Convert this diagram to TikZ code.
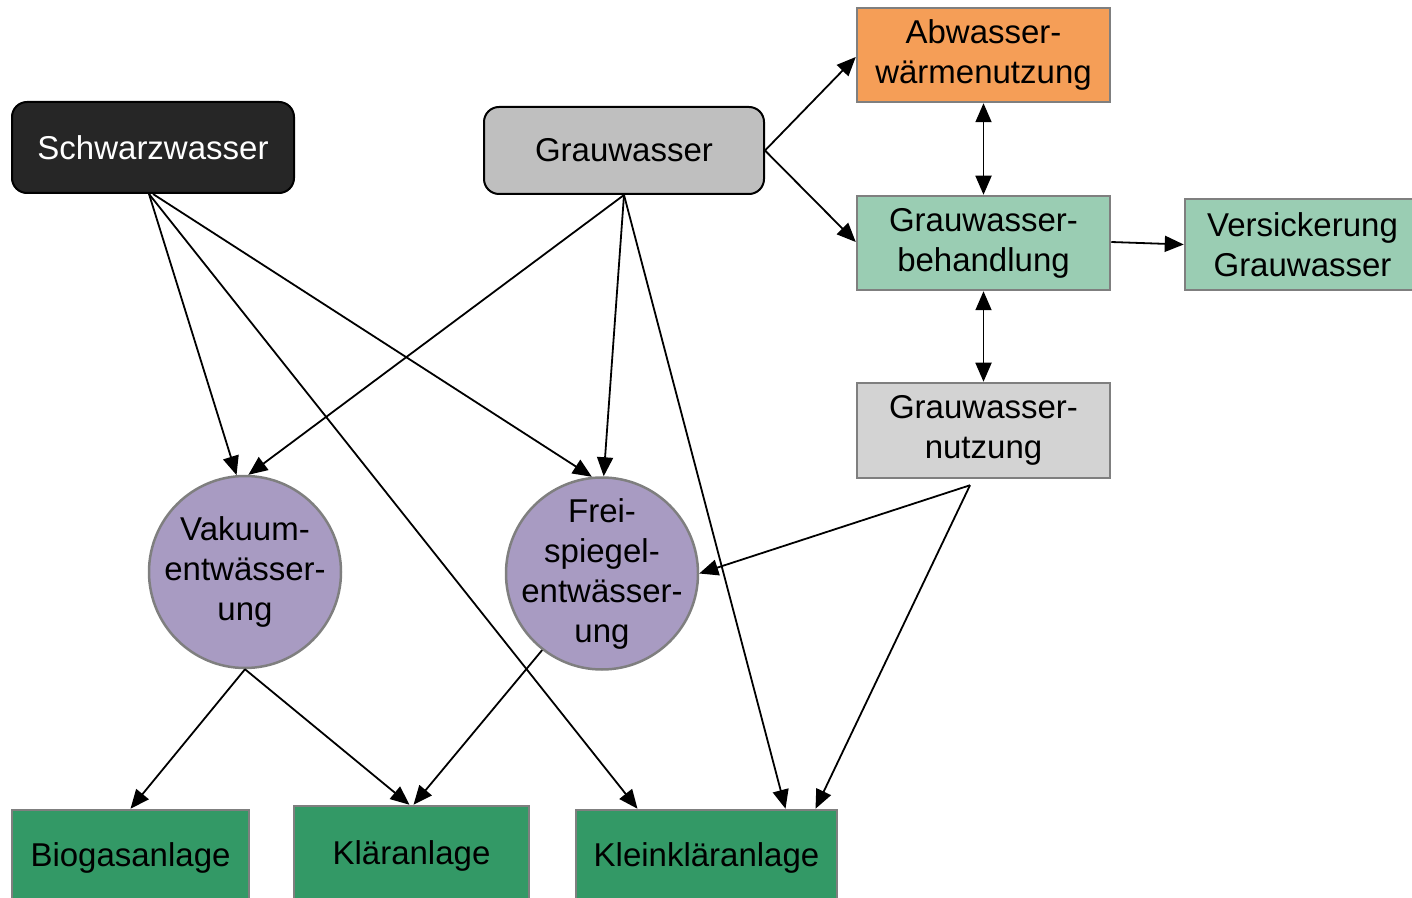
\documentclass[tikz,border=0pt]{standalone}
\usepackage{fontspec}
\setmainfont{Liberation Sans}
\usetikzlibrary{arrows.meta,calc}
\definecolor{bordgray}{HTML}{7F7F7F}
\definecolor{swfill}{HTML}{262626}
\definecolor{gwfill}{HTML}{BFBFBF}
\definecolor{orfill}{HTML}{F59E57}
\definecolor{lgfill}{HTML}{9ACDB3}
\definecolor{nzfill}{HTML}{D3D3D3}
\definecolor{pufill}{HTML}{A89BC2}
\definecolor{dgfill}{HTML}{339966}
\begin{document}
\begin{tikzpicture}[x=0.5pt,y=-0.5pt,
  txt/.style={align=center, inner sep=0pt, font=\fontsize{16.5}{20}\selectfont},
  box/.style={txt, draw=bordgray, line width=1.25pt, rectangle},
  rbox/.style={txt, draw=black, line width=1pt, rounded corners=7.5pt, rectangle},
  circ/.style={draw=bordgray, line width=1.25pt, circle, inner sep=0pt, minimum size=96pt, fill=pufill},
  arr/.style={-{Triangle[length=9.5pt,width=8pt]}, line width=0.9pt},
  darr/.style={{Triangle[length=9.5pt,width=8pt]}-{Triangle[length=9.5pt,width=8pt]}, line width=0.9pt}]
\useasboundingbox (0,0) rectangle (1412,898);
\clip (0,0) rectangle (1412,898);

\node[rbox, fill=swfill, text=white, minimum width=141pt, minimum height=45.5pt] (sw) at (153,147.5) {Schwarzwasser};
\node[rbox, fill=gwfill, minimum width=140pt, minimum height=43.5pt] (gw) at (624,150.5) {Grauwasser};
\node[box, fill=orfill, minimum width=126.5pt, minimum height=47pt] (abw) at (983.5,55) {Abwasser-\\wärmenutzung};
\node[box, fill=lgfill, minimum width=126.5pt, minimum height=47pt] (beh) at (983.5,243) {Grauwasser-\\behandlung};
\node[box, fill=lgfill, minimum width=117.5pt, minimum height=45.5pt] (vers) at (1302.5,244.5) {Versickerung\\Grauwasser};
\node[box, fill=nzfill, minimum width=126.5pt, minimum height=47.5pt] (gn) at (983.5,430.5) {Grauwasser-\\nutzung};
\node[circ, label={[txt]center:{Vakuum-\\entwässer-\\ung}}] (vak) at (245,572) {};
\node[circ, label={[txt]center:{Frei-\\spiegel-\\entwässer-\\ung}}] (fs) at (602,573.5) {};
\node[box, fill=dgfill, minimum width=118.5pt, minimum height=47.5pt] (bio) at (130.5,857.5) {Biogasanlage};
\node[box, fill=dgfill, minimum width=117.5pt, minimum height=49.5pt] (kl) at (411.5,855.5) {Kläranlage};
\node[box, fill=dgfill, minimum width=130.5pt, minimum height=47.5pt] (klk) at (706.5,857.5) {Kleinkläranlage};

\coordinate (nz) at ([xshift=-6.75pt,yshift=-3pt]gn.south);

\draw[arr] ([xshift=-2pt]sw.south) -- (vak.95);
\draw[arr] ([xshift=-2pt]sw.south) -- ([xshift=-34.5pt]klk.north);
\draw[arr] (sw.south) -- (fs.96);
\draw[arr] (gw.south) -- (vak.88);
\draw[arr] (gw.south) -- (fs.89);
\draw[arr] (gw.south) -- ([xshift=39.5pt]klk.north);
\draw[arr] (gw.east) -- ([yshift=-1pt]abw.west);
\draw[arr] (gw.east) -- ([yshift=0.5pt]beh.west);
\draw[darr] (abw.south) -- (beh.north);
\draw[darr] (beh.south) -- (gn.north);
\draw[arr] ([yshift=0.5pt]beh.east) -- (vers.west);
\draw[arr] (nz) -- (fs.east);
\draw[arr] (nz) -- ([xshift=54.5pt]klk.north);
\draw[arr] (vak.south) -- (bio.north);
\draw[arr] (vak.south) -- ([xshift=-1pt]kl.north);
\draw[arr] (fs.232) -- ([xshift=1pt]kl.north);
\end{tikzpicture}
\end{document}
